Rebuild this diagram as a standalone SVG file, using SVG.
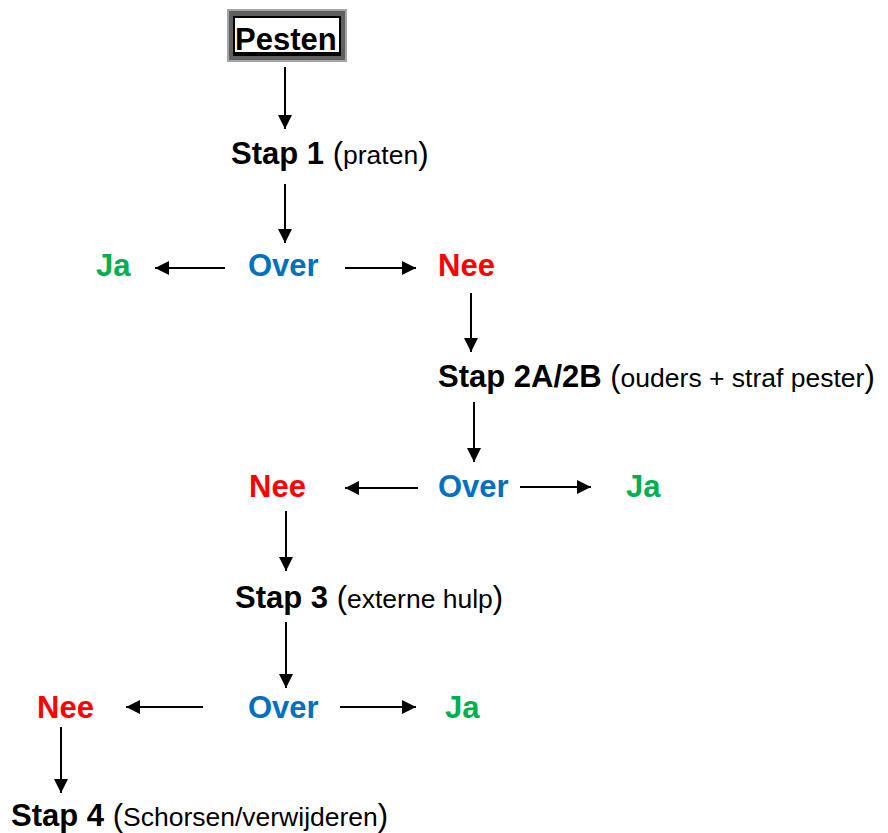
<svg xmlns="http://www.w3.org/2000/svg" width="888" height="833" viewBox="0 0 888 833">
<style>
text{font-family:"Liberation Sans",Arial,sans-serif}
.b{font-weight:bold;font-size:31px;fill:#000}
.s{font-size:26.5px;font-weight:normal}
.p{font-size:31px;font-weight:normal}
.g{fill:#00B050}.bl{fill:#0070C0}.r{fill:#FF0000}
.c line{stroke:#000;stroke-width:2}
</style>
<defs>
<marker id="ah" viewBox="0 0 10 10" refX="10" refY="5" markerWidth="16" markerHeight="14" markerUnits="userSpaceOnUse" orient="auto"><path d="M0,0L10,5L0,10z" fill="#000"/></marker>
</defs>
<rect width="888" height="833" fill="#fff"/>
<g id="pesten">
<rect x="227" y="9" width="120" height="53" fill="#A6A6A6"/>
<rect x="229" y="11" width="116" height="49" fill="#606060"/>
<rect x="233" y="16" width="108" height="40" fill="#000"/>
<rect x="235" y="18" width="104" height="34" fill="#fff"/>
<text x="235" y="50" class="b" text-decoration="underline">Pesten</text>
</g>
<g id="stap1"><text x="231" y="164" class="b">Stap 1 <tspan class="p">(</tspan><tspan class="s">praten</tspan><tspan class="p">)</tspan></text></g>
<g id="ja1"><text x="96" y="276" class="b g">Ja</text></g>
<g id="over1"><text x="248" y="276" class="b bl">Over</text></g>
<g id="nee1"><text x="438" y="276" class="b r">Nee</text></g>
<g id="stap2"><text x="438" y="387" class="b">Stap 2A/2B <tspan class="p">(</tspan><tspan class="s">ouders + straf pester</tspan><tspan class="p">)</tspan></text></g>
<g id="nee2"><text x="249" y="497" class="b r">Nee</text></g>
<g id="over2"><text x="438" y="497" class="b bl">Over</text></g>
<g id="ja2"><text x="626" y="497" class="b g">Ja</text></g>
<g id="stap3"><text x="235" y="608" class="b">Stap 3 <tspan class="p">(</tspan><tspan class="s">externe hulp</tspan><tspan class="p">)</tspan></text></g>
<g id="nee3"><text x="37" y="718" class="b r">Nee</text></g>
<g id="over3"><text x="248" y="718" class="b bl">Over</text></g>
<g id="ja3"><text x="445" y="718" class="b g">Ja</text></g>
<g id="stap4"><text x="11" y="826" class="b">Stap 4 <tspan class="p">(</tspan><tspan class="s">Schorsen/verwijderen</tspan><tspan class="p">)</tspan></text></g>
<g id="connectors" class="c">
<line x1="285" y1="67" x2="285" y2="129" marker-end="url(#ah)"/>
<line x1="285" y1="184" x2="285" y2="243" marker-end="url(#ah)"/>
<line x1="225" y1="268" x2="155" y2="268" marker-end="url(#ah)"/>
<line x1="345" y1="268" x2="416" y2="268" marker-end="url(#ah)"/>
<line x1="471" y1="293" x2="471" y2="352" marker-end="url(#ah)"/>
<line x1="474" y1="402" x2="474" y2="462" marker-end="url(#ah)"/>
<line x1="418" y1="488" x2="345" y2="488" marker-end="url(#ah)"/>
<line x1="520" y1="487" x2="591" y2="487" marker-end="url(#ah)"/>
<line x1="286" y1="511" x2="286" y2="571" marker-end="url(#ah)"/>
<line x1="286" y1="622" x2="286" y2="688" marker-end="url(#ah)"/>
<line x1="203" y1="707" x2="126" y2="707" marker-end="url(#ah)"/>
<line x1="340" y1="707" x2="416" y2="707" marker-end="url(#ah)"/>
<line x1="61" y1="727" x2="61" y2="793" marker-end="url(#ah)"/>
</g>
</svg>
